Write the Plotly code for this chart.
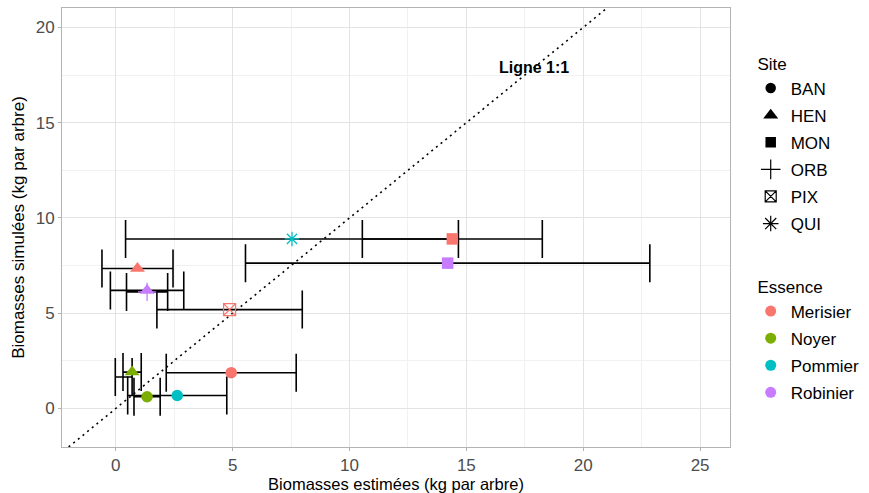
import plotly.graph_objects as go

# ---------------- data ----------------
site = ["BAN", "BAN", "BAN", "HEN", "HEN", "HEN", "MON", "MON", "ORB", "PIX", "QUI", None]
essence = ["Merisier", "Noyer", "Pommier", "Merisier", "Noyer", "Robinier",
           "Merisier", "Robinier", "Robinier", "Merisier", "Pommier", "Noyer"]
estimated = [4.94, 1.34, 2.63, 0.93, 0.70, 1.34, 14.40, 14.20, 1.34, 4.87, 7.54, 0.34]
simulated = [1.88, 0.62, 0.68, 7.35, 1.91, 6.20, 8.90, 7.63, 6.12, 5.19, 8.90, 1.65]
est_err = [2.78, 0.56, 2.12, 1.52, 0.39, 1.57, 3.85, 8.65, 0.88, 3.11, 7.12, 0.36]

site_levels = ["BAN", "HEN", "MON", "ORB", "PIX", "QUI"]
essence_levels = ["Merisier", "Noyer", "Pommier", "Robinier"]
one_to_one = [-5, 30]

essence_colors = {"Merisier": "#F8766D", "Noyer": "#7CAE00",
                  "Pommier": "#00BFC4", "Robinier": "#C77CFF"}
site_symbols = {"BAN": "circle", "HEN": "triangle-up", "MON": "square",
                "ORB": "cross-thin-open", "PIX": "square-x-open", "QUI": "asterisk-open"}
site_sizes = {"BAN": 11.5, "HEN": 13, "MON": 11.5, "ORB": 13, "PIX": 12, "QUI": 12}
legend_sizes = {"BAN": 10.5, "HEN": 13, "MON": 10.5, "ORB": 14, "PIX": 11, "QUI": 13}

FONT = "Liberation Sans, Arial, sans-serif"

fig = go.Figure()

# 1:1 line
fig.add_trace(go.Scatter(x=one_to_one, y=one_to_one, mode="lines",
                         line=dict(color="black", width=1.6, dash="2px,4px"),
                         showlegend=False, hoverinfo="skip"))

# horizontal error bars
fig.add_trace(go.Scatter(
    x=estimated, y=simulated, mode="markers",
    marker=dict(size=1, color="rgba(0,0,0,0)"),
    error_x=dict(type="data", array=est_err, symmetric=True,
                 color="black", thickness=1.6, width=19),
    showlegend=False, hoverinfo="skip"))

# points by site
for s in site_levels:
    idx = [i for i, v in enumerate(site) if v == s]
    if not idx:
        continue
    cols = [essence_colors[essence[i]] for i in idx]
    sym = site_symbols[s]
    is_open = sym.endswith("open")
    fig.add_trace(go.Scatter(
        x=[estimated[i] for i in idx], y=[simulated[i] for i in idx],
        mode="markers",
        marker=dict(symbol=sym, size=site_sizes[s], color=cols,
                    line=dict(width=1.3 if is_open else 0, color=cols)),
        showlegend=False))

# legend: Site
for s in site_levels:
    sym = site_symbols[s]
    is_open = sym.endswith("open")
    fig.add_trace(go.Scatter(
        x=[None], y=[None], mode="markers", name=s, legend="legend",
        legendgroup="site_" + s,
        marker=dict(symbol=sym, size=legend_sizes[s], color="black",
                    line=dict(width=1.2 if is_open else 0, color="black"))))

# legend: Essence
for e in essence_levels:
    fig.add_trace(go.Scatter(
        x=[None], y=[None], mode="markers", name=e, legend="legend2",
        legendgroup="ess_" + e,
        marker=dict(symbol="circle", size=11, color=essence_colors[e])))

fig.add_annotation(x=17.9, y=17.9, text="Ligne 1:1", showarrow=False,
                   font=dict(family=FONT, size=16, color="black", weight="bold"))

axis_common = dict(
    showline=True, linecolor="#B3B3B3", linewidth=1, mirror=True,
    showgrid=True, gridcolor="#E3E3E3", gridwidth=1,
    zeroline=False, ticks="outside", ticklen=3, tickcolor="#B3B3B3",
    tickfont=dict(family=FONT, size=17, color="#4D4D4D"),
)

fig.update_layout(
    width=869, height=493,
    margin=dict(l=62, r=139, t=8, b=46, autoexpand=False),
    paper_bgcolor="white", plot_bgcolor="white",
    font=dict(family=FONT, color="black"),
    xaxis=dict(range=[-2.3, 26.28], tickvals=[0, 5, 10, 15, 20, 25],
               minor=dict(tickvals=[2.5, 7.5, 12.5, 17.5, 22.5], showgrid=True,
                          gridcolor="#F1F1F1", ticks=""),
               title=dict(text="Biomasses estimées (kg par arbre)",
                          font=dict(family=FONT, size=16.5, color="black"), standoff=0),
               automargin=False, **axis_common),
    yaxis=dict(range=[-2.02, 21.02], tickvals=[0, 5, 10, 15, 20],
               minor=dict(tickvals=[2.5, 7.5, 12.5, 17.5], showgrid=True,
                          gridcolor="#F1F1F1", ticks=""),
               title=dict(text="Biomasses simulées (kg par arbre)",
                          font=dict(family=FONT, size=17, color="black"), standoff=6),
               automargin=False, **axis_common),
    legend=dict(x=1.031, y=0.908, xanchor="left", yanchor="top",
                title=dict(text=" Site", font=dict(family=FONT, size=17, color="black")),
                font=dict(family=FONT, size=17, color="black"),
                tracegroupgap=2, bgcolor="rgba(0,0,0,0)"),
    legend2=dict(x=1.031, y=0.40, xanchor="left", yanchor="top",
                 title=dict(text=" Essence", font=dict(family=FONT, size=17, color="black")),
                 font=dict(family=FONT, size=17, color="black"),
                 tracegroupgap=2, bgcolor="rgba(0,0,0,0)"),
)

fig.write_html("out.html")
